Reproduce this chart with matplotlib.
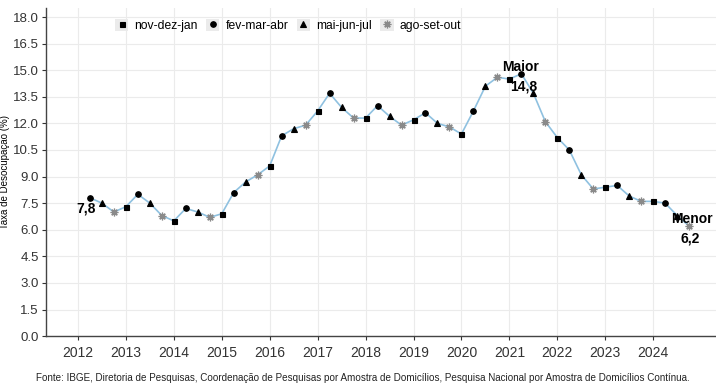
import matplotlib
matplotlib.use("Agg")
import matplotlib.pyplot as plt
from matplotlib.lines import Line2D
from matplotlib.patches import Patch
from matplotlib.legend_handler import HandlerTuple

plt.rcParams['font.family'] = ['Liberation Sans', 'DejaVu Sans']

# quarters: nov-dez-jan (0), fev-mar-abr (1), mai-jun-jul (2), ago-set-out (3)
start_year = 2012
start_quarter = 1  # first point: fev-mar-abr 2012
rates = [7.8, 7.5, 7.0, 7.3,
         8.0, 7.5, 6.8, 6.5,
         7.2, 7.0, 6.7, 6.9,
         8.1, 8.7, 9.1, 9.6,
         11.3, 11.7, 11.9, 12.7,
         13.7, 12.9, 12.3, 12.3,
         13.0, 12.4, 11.9, 12.2,
         12.6, 12.0, 11.8, 11.4,
         12.7, 14.1, 14.6, 14.5,
         14.8, 13.7, 12.1, 11.2,
         10.5, 9.1, 8.3, 8.4,
         8.5, 7.9, 7.6, 7.6,
         7.5, 6.8, 6.2]
quarter_names = ['nov-dez-jan', 'fev-mar-abr', 'mai-jun-jul', 'ago-set-out']
year_ticks = list(range(2012, 2025))
y_ticks = [i * 1.5 for i in range(13)]
labels_pts = [("7,8", 0), ("14,8", 36), ("6,2", 50)]

xs = [start_year + (start_quarter + i) / 4 for i in range(len(rates))]
qidx = [(start_quarter + i) % 4 for i in range(len(rates))]

fig = plt.figure(figsize=(7.16, 3.89), dpi=100)
ax = fig.add_axes([0.064, 0.136, 0.936, 0.843])

ax.plot(xs, rates, color='#8fc1e0', lw=1.2, zorder=2)

styles = {
    0: dict(marker='s', color='black', ms=3.6),
    1: dict(marker='o', color='black', ms=4.0),
    2: dict(marker='^', color='black', ms=4.3),
    3: dict(marker=(8, 2, 0), color='#8a8a8a', ms=5.5, mew=0.9),
}
for q in range(4):
    px = [x for x, k in zip(xs, qidx) if k == q]
    py = [y for y, k in zip(rates, qidx) if k == q]
    st = styles[q]
    ax.plot(px, py, ls='none', marker=st['marker'], color=st['color'],
            mec=st['color'], ms=st['ms'], mew=st.get('mew', 0.8), zorder=3)

# annotations
fs = 10
ax.text(xs[0] - 0.08, rates[0] - 0.6, labels_pts[0][0], fontsize=fs, fontweight='bold',
        ha='center', va='center')
ax.text(xs[36] - 0.02, rates[36] + 0.4, "Maior", fontsize=fs, fontweight='bold',
        ha='center', va='center')
ax.text(xs[36] + 0.04, rates[36] - 0.7, labels_pts[1][0], fontsize=fs, fontweight='bold',
        ha='center', va='center')
ax.text(xs[50] + 0.06, rates[50] + 0.4, "Menor", fontsize=fs, fontweight='bold',
        ha='center', va='center')
ax.text(xs[50] + 0.02, rates[50] - 0.67, labels_pts[2][0], fontsize=fs, fontweight='bold',
        ha='center', va='center')

ax.set_xlim(2011.33, 2025.31)
ax.set_ylim(0, 18.5)
ax.set_xticks(year_ticks)
ax.set_xticklabels([str(y) for y in year_ticks])
ax.set_yticks(y_ticks)
ax.set_yticklabels([f"{v:.1f}" for v in y_ticks])
ax.tick_params(axis='x', labelsize=10, colors='#333333', length=3, width=0.8, pad=4)
ax.tick_params(axis='y', labelsize=9.5, colors='#333333', length=3, width=0.8, pad=2)
ax.set_ylabel("Taxa de Desocupação (%)", fontsize=7, labelpad=2)
ax.grid(True, color='#ebebeb', lw=0.8)
ax.set_axisbelow(True)
for s in ['top', 'right']:
    ax.spines[s].set_visible(False)
for s in ['left', 'bottom']:
    ax.spines[s].set_color('#444444')
    ax.spines[s].set_linewidth(1.0)

# legend
handles = []
for q in range(4):
    st = styles[q]
    h = (Patch(facecolor='#ebebeb', edgecolor='none'),
         Line2D([], [], ls='none', marker=st['marker'], color=st['color'],
                mec=st['color'], ms=st['ms'], mew=st.get('mew', 0.8)))
    handles.append(h)
leg = ax.legend(handles, quarter_names, ncol=4, loc='upper left',
                bbox_to_anchor=(0.087, 1.0), frameon=False, fontsize=8.7,
                handler_map={tuple: HandlerTuple(ndivide=1, pad=0)},
                handlelength=1.1, handleheight=1.1, handletextpad=0.5,
                columnspacing=0.7)

fig.text(0.507, 0.028, "Fonte: IBGE, Diretoria de Pesquisas, Coordenação de Pesquisas por Amostra de Domicílios, "
         "Pesquisa Nacional por Amostra de Domicílios Contínua.",
         ha='center', va='center', fontsize=7.1, color='#222222')

fig.savefig("out.png", dpi=100)
